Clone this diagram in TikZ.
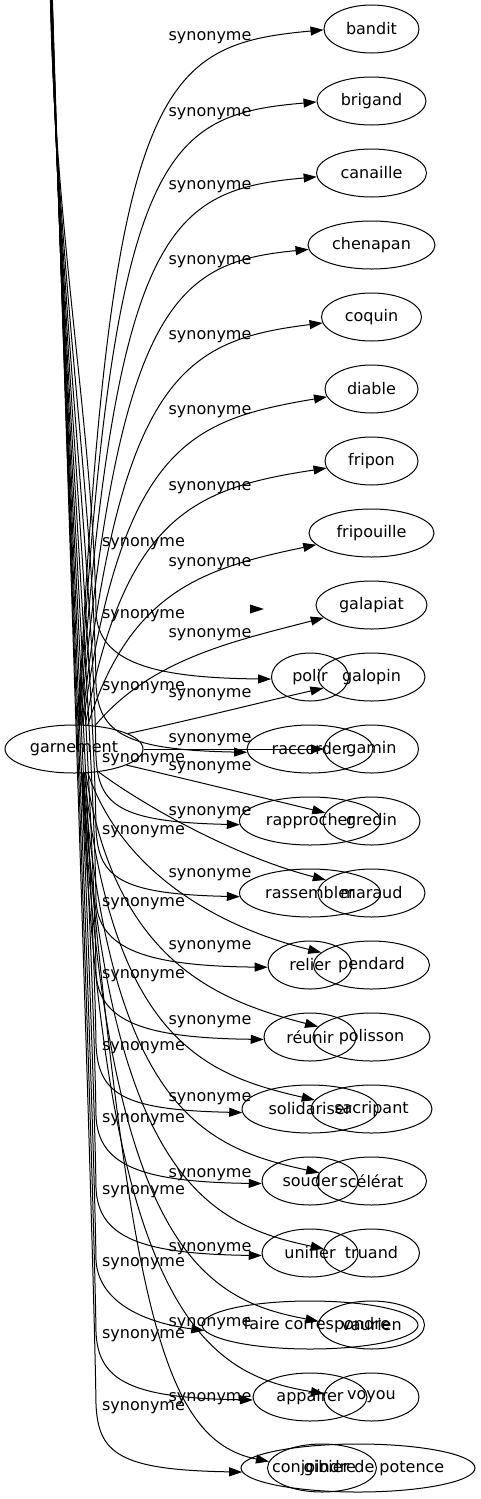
\documentclass[tikz,border=0pt]{standalone}
\usepackage{fontspec}
\setmainfont{DejaVu Sans}
\usetikzlibrary{shapes.geometric,arrows.meta}

\tikzset{%
  word/.style={
    ellipse,
    draw,
    line width=1pt,
    inner sep=0pt,
    minimum height=48pt
  },
  syn/.style={
    line width=1pt,
    -{Triangle[length=13pt,width=9pt]}
  },
  synlabel/.style={
    inner sep=0pt
  },
}

\begin{document}
\begin{tikzpicture}[x=1pt,y=-1pt,font=\fontsize{16}{19}\selectfont]
\useasboundingbox (0,0) rectangle (480,1499);
\clip (0,0) rectangle (480,1499);

% garnement and its synonyms
\node[word, minimum width=138pt] (garnement) at (74,749) {garnement};
\node[word, minimum width=95pt] (bandit) at (371.5,29) {bandit};
\node[word, minimum width=109pt] (brigand) at (371.5,101) {brigand};
\node[word, minimum width=110pt] (canaille) at (371.5,173) {canaille};
\node[word, minimum width=127pt] (chenapan) at (371.5,245) {chenapan};
\node[word, minimum width=100pt] (coquin) at (371.5,317) {coquin};
\node[word, minimum width=93pt] (diable) at (371.5,389) {diable};
\node[word, minimum width=93pt] (fripon) at (371.5,461) {fripon};
\node[word, minimum width=125pt] (fripouille) at (371.5,533) {fripouille};
\node[word, minimum width=111pt] (galapiat) at (371.5,605) {galapiat};
\node[word, minimum width=107pt] (galopin) at (371.5,677) {galopin};
\node[word, minimum width=94pt] (gamin) at (371.5,749) {gamin};
\node[word, minimum width=97pt] (gredin) at (371.5,821) {gredin};
\node[word, minimum width=107pt] (maraud) at (371.5,893) {maraud};
\node[word, minimum width=116pt] (pendard) at (371.5,965) {pendard};
\node[word, minimum width=117pt] (polisson) at (371.5,1037) {polisson};
\node[word, minimum width=121pt] (sacripant) at (371.5,1109) {sacripant};
\node[word, minimum width=110pt] (scelerat) at (371.5,1181) {scélérat};
\node[word, minimum width=96pt] (truand) at (371.5,1253) {truand};
\node[word, minimum width=106pt] (vaurien) at (371.5,1325) {vaurien};
\node[word, minimum width=95pt] (voyou) at (371.5,1397) {voyou};
\node[word, minimum width=234pt, label={[xshift=16pt]center:gibier de potence}] (gibier) at (358,1468) {};

% the verbs
\node[word, minimum width=77pt] (polir) at (310,677) {polir};
\node[word, minimum width=126pt] (raccorder) at (310,749) {raccorder};
\node[word, minimum width=141pt] (rapprocher) at (310,821) {rapprocher};
\node[word, minimum width=141pt] (rassembler) at (310,893) {rassembler};
\node[word, minimum width=84pt] (relier) at (310,965) {relier};
\node[word, minimum width=92pt] (reunir) at (310,1037) {réunir};
\node[word, minimum width=136pt] (solidariser) at (310,1109) {solidariser};
\node[word, minimum width=96pt] (souder) at (310,1181) {souder};
\node[word, minimum width=96pt] (unifier) at (310,1253) {unifier};
\node[word, minimum width=216pt, label={[xshift=7pt]center:faire correspondre}] (fairecorr) at (310,1325) {};
\node[word, minimum width=114pt] (appairer) at (310,1397) {appairer};
\node[word, minimum width=109pt, label={[xshift=-8pt]center:conjoindre}] (conj) at (322,1468) {};

\coordinate (src) at (50,-80);
\coordinate (stray) at (264,609);

% edges from garnement
\draw[syn] (garnement.80) .. controls (110,80) and (160,45) .. (bandit.181);
\draw[syn] (garnement.79) .. controls (112,150) and (164,115) .. (brigand.181);
\draw[syn] (garnement.77) .. controls (115,225) and (170,190) .. (canaille.184);
\draw[syn] (garnement.75) .. controls (118,300) and (178,262) .. (chenapan.184);
\draw[syn] (garnement.72) .. controls (120,375) and (185,340) .. (coquin.187);
\draw[syn] (garnement.70) .. controls (122,445) and (190,420) .. (diable.190);
\draw[syn] (garnement.65) .. controls (125,515) and (195,488) .. (fripon.189);
\draw[syn] (garnement.60) .. controls (130,590) and (205,568) .. (fripouille.192);
\draw[syn] (garnement.48) .. controls (150,660) and (230,642) .. (galapiat.195);
\draw[syn] (garnement.16) .. controls (200,718) and (262,702) .. (galopin.193);
\draw[syn] (garnement) -- (gamin);
\draw[syn] (garnement.343) .. controls (190,780) and (260,797) .. (gredin.170);
\draw[syn] (garnement.317) .. controls (150,810) and (240,858) .. (maraud.164);
\draw[syn] (garnement.300) .. controls (125,880) and (230,930) .. (pendard.166);
\draw[syn] (garnement.296) .. controls (115,960) and (215,1000) .. (polisson.169);
\draw[syn] (garnement.293) .. controls (112,1040) and (205,1075) .. (sacripant.171);
\draw[syn] (garnement.291) .. controls (110,1110) and (205,1148) .. (scelerat.171);
\draw[syn] (garnement.290) .. controls (108,1180) and (210,1225) .. (truand.175);
\draw[syn] (garnement.289) .. controls (106,1250) and (205,1300) .. (vaurien.176);
\draw[syn] (garnement.288) .. controls (104,1320) and (210,1375) .. (voyou.176);
\draw[syn] (garnement.287) .. controls (130,1300) and (160,1440) .. (conj.173);

% edges coming down from above
\draw[syn] (src) .. controls (47,200) and (93,412) .. (96,612) .. controls (98,662) and (152,678) .. (polir.183);
\draw[syn] (src) .. controls (48,200) and (93,484) .. (96,684) .. controls (98,734) and (127,750) .. (raccorder.183);
\draw[syn] (src) .. controls (49,200) and (93,556) .. (96,756) .. controls (98,806) and (120,822) .. (rapprocher.183);
\draw[syn] (src) .. controls (50,200) and (93,628) .. (96,828) .. controls (98,878) and (120,894) .. (rassembler.183);
\draw[syn] (src) .. controls (51,200) and (93,700) .. (96,900) .. controls (98,950) and (148,966) .. (relier.183);
\draw[syn] (src) .. controls (52,200) and (93,772) .. (96,972) .. controls (98,1022) and (145,1038) .. (reunir.183);
\draw[syn] (src) .. controls (53,200) and (93,844) .. (96,1044) .. controls (98,1094) and (122,1110) .. (solidariser.183);
\draw[syn] (src) .. controls (54,200) and (93,916) .. (96,1116) .. controls (98,1166) and (142,1182) .. (souder.183);
\draw[syn] (src) .. controls (55,200) and (93,988) .. (96,1188) .. controls (98,1238) and (142,1254) .. (unifier.183);
\draw[syn] (src) .. controls (56,200) and (93,1060) .. (96,1260) .. controls (98,1300) and (140,1322) .. (fairecorr.183);
\draw[syn] (src) .. controls (57,200) and (93,1132) .. (96,1332) .. controls (98,1382) and (133,1398) .. (appairer.183);
\draw[syn] (src) .. controls (58,200) and (93,1204) .. (96,1404) .. controls (98,1454) and (120,1470) .. (gibier.182);
\fill (stray) -- ++(-14,-4.5) -- ++(0,9) -- cycle;

% labels
\node[synlabel] (sbandit) at (210,38) {synonyme};
\node[synlabel] (sbrigand) at (210,114) {synonyme};
\node[synlabel] (scanaille) at (210,187) {synonyme};
\node[synlabel] (schenapan) at (210,262) {synonyme};
\node[synlabel] (scoquin) at (210,337) {synonyme};
\node[synlabel] (sdiable) at (210,412) {synonyme};
\node[synlabel] (sfripon) at (210,488) {synonyme};
\node[synlabel] (sfripouille) at (210,564) {synonyme};
\node[synlabel] (sgalapiat) at (210,635) {synonyme};
\node[synlabel] (sgalopin) at (210,695) {synonyme};
\node[synlabel] (sgamin) at (210,740) {synonyme};
\node[synlabel] (sgredin) at (210,768) {synonyme};
\node[synlabel] (smaraud) at (210,813) {synonyme};
\node[synlabel] (spendard) at (210,875) {synonyme};
\node[synlabel] (spolisson) at (210,947) {synonyme};
\node[synlabel] (ssacripant) at (210,1022) {synonyme};
\node[synlabel] (sscelerat) at (210,1099) {synonyme};
\node[synlabel] (struand) at (210,1175) {synonyme};
\node[synlabel] (svaurien) at (210,1249) {synonyme};
\node[synlabel] (svoyou) at (210,1324) {synonyme};
\node[synlabel] (sconj) at (210,1399) {synonyme};
\node[synlabel] (sstray) at (143.5,544) {synonyme};
\node[synlabel] (spolir) at (143.5,616) {synonyme};
\node[synlabel] (sraccorder) at (143.5,688) {synonyme};
\node[synlabel] (srapprocher) at (143.5,760) {synonyme};
\node[synlabel] (srassembler) at (143.5,832) {synonyme};
\node[synlabel] (srelier) at (143.5,904) {synonyme};
\node[synlabel] (sreunir) at (143.5,976) {synonyme};
\node[synlabel] (ssolidariser) at (143.5,1048) {synonyme};
\node[synlabel] (ssouder) at (143.5,1120) {synonyme};
\node[synlabel] (sunifier) at (143.5,1192) {synonyme};
\node[synlabel] (sfairecorr) at (143.5,1264) {synonyme};
\node[synlabel] (sappairer) at (143.5,1336) {synonyme};
\node[synlabel] (sgibier) at (143.5,1408) {synonyme};
\end{tikzpicture}
\end{document}
